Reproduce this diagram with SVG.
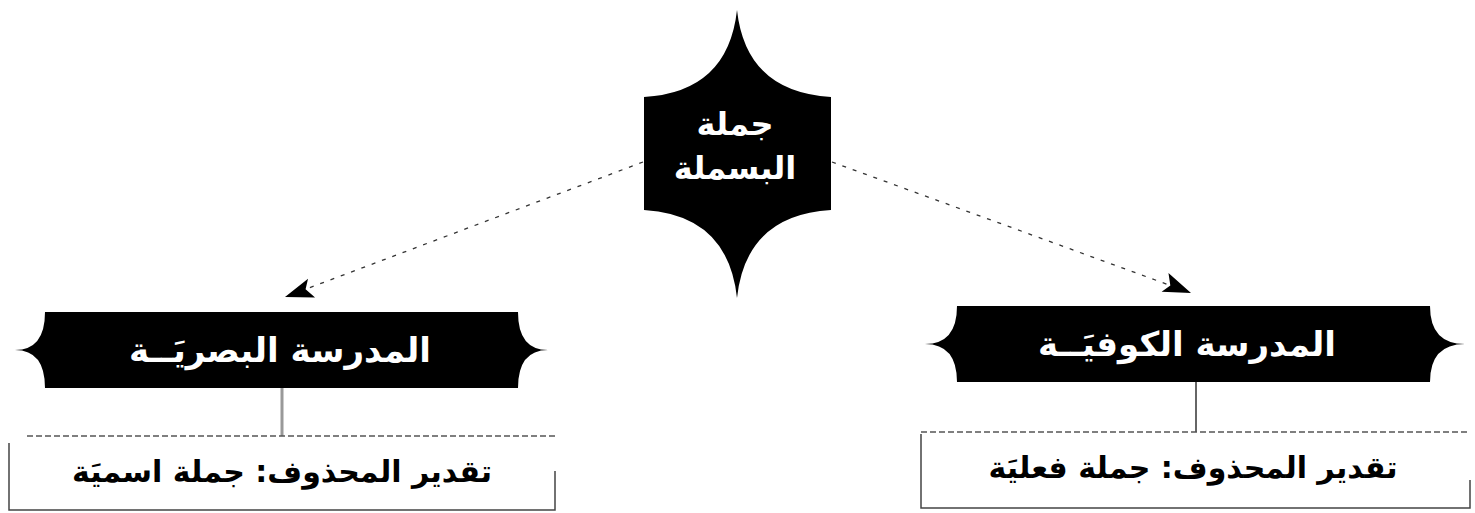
<svg xmlns="http://www.w3.org/2000/svg" width="1475" height="513" viewBox="0 0 1475 513">
<style>
.shape{fill:#000;}
.wt{fill:#fff;font-family:"DejaVu Sans",sans-serif;font-weight:bold;text-anchor:middle;}
.bt{fill:#000;font-family:"DejaVu Sans",sans-serif;font-weight:bold;text-anchor:middle;}
.conn{stroke:#333;stroke-width:1.3;stroke-dasharray:4 7;fill:none;}
.border{stroke:#444;stroke-width:1.5;fill:none;}
.dash{stroke:#555;stroke-width:1.5;stroke-dasharray:6 3;fill:none;}
</style>
<defs>
<marker id="arr" markerUnits="userSpaceOnUse" markerWidth="40" markerHeight="30" refX="2" refY="0" viewBox="-30 -15 40 30" orient="auto">
<path d="M2,0 L-26,-11 L-20,0 L-26,9 Z" fill="#000"/>
</marker>
</defs>
<rect width="1475" height="513" fill="#fff"/>
<g id="connectors">
<line class="conn" x1="643" y1="162" x2="285" y2="297" marker-end="url(#arr)"/>
<line class="conn" x1="832" y1="162" x2="1191" y2="293" marker-end="url(#arr)"/>
<line x1="282" y1="388" x2="282" y2="436" stroke="#999" stroke-width="3"/>
<line x1="1196" y1="382" x2="1196" y2="432" stroke="#333" stroke-width="1.5"/>
</g>
<g id="root">
<path class="shape" d="M644,97 Q728,92 737,10 Q746,92 831,97 L831,210 Q746,215 737,298 Q728,215 644,210 Z"/>
<text class="wt" x="735" y="135" font-size="32">جملة</text>
<text class="wt" x="735" y="179" font-size="32">البسملة</text>
</g>
<g id="basra">
<path class="shape" d="M45,312 L518,312 Q518,350 548,350 Q518,350 518,388 L45,388 Q45,350 15,350 Q45,350 45,312 Z"/>
<text class="wt" x="280" y="362" font-size="34">المدرسة البصريَــة</text>
</g>
<g id="kufa">
<path class="shape" d="M957,306 L1430,306 Q1430,344 1465,344 Q1430,344 1430,382 L957,382 Q957,344 925,344 Q957,344 957,306 Z"/>
<text class="wt" x="1187" y="356" font-size="34">المدرسة الكوفيَــة</text>
</g>
<g id="basra-note">
<line class="dash" x1="27" y1="436" x2="555" y2="436"/>
<polyline class="border" points="9,443 9,510 555,510 555,471"/>
<text class="bt" x="282" y="482" font-size="30">تقدير المحذوف: جملة اسميَة</text>
</g>
<g id="kufa-note">
<line class="dash" x1="921" y1="432" x2="1470" y2="432"/>
<polyline class="border" points="921,434 921,508 1470,508 1470,480"/>
<text class="bt" x="1193" y="478" font-size="30">تقدير المحذوف: جملة فعليَة</text>
</g>
</svg>
